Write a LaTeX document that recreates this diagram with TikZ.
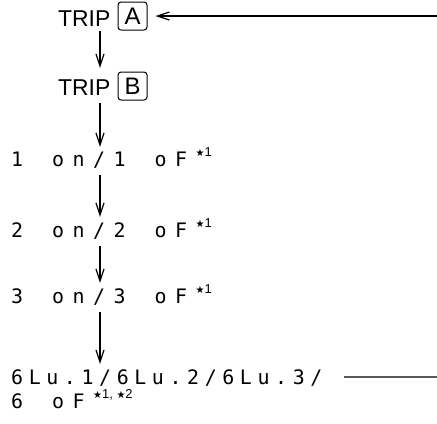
\documentclass[tikz,border=0pt]{standalone}
\usepackage{fontspec}
\setmainfont{Liberation Sans}
\newfontfamily\segfont{DejaVu Sans Mono}
\newfontfamily\starfont{DejaVu Sans}
\newfontfamily\supfont{Liberation Sans}
\usetikzlibrary{arrows.meta}
\newlength\sgw
\setlength\sgw{20.5bp}
\newcommand\sg[1]{\makebox[\sgw][l]{#1}}
\newcommand\sgsp{\hspace*{\sgw}}
\newcommand\starsym{{\starfont\fontsize{10}{10}\selectfont ★}}
\newcommand\supmark[1]{\raisebox{10bp}{\supfont\fontsize{13}{13}\selectfont #1}}
\begin{document}
\begin{tikzpicture}[x=1bp,y=-1bp,
  trip/.style={font=\fontsize{23}{23}\selectfont, inner sep=0, text height=17bp, text depth=0bp, anchor=base west},
  keybox/.style={draw, line width=1bp, rounded corners=3bp, minimum width=29bp, minimum height=28bp, inner sep=0, font=\fontsize{24}{24}\selectfont},
  segrow/.style={font=\segfont\fontsize{20}{20}\selectfont, inner sep=0, text height=14bp, text depth=0bp, anchor=base west,
    execute at begin node={\setlength\sgw{20.5bp}}},
  segrowtight/.style={segrow, execute at begin node={\setlength\sgw{17.6bp}}},
  arr/.style={line width=1.2bp, -{Straight Barb[length=12bp,width=8bp]}},
  flow/.style={arr, shorten <=9bp, shorten >=6bp},
  conn/.style={line width=1.2bp}]
\fill[white] (0,0) rectangle (437,423);
\useasboundingbox (0,0) rectangle (437,423);
\coordinate (ax) at (100,0);
\node[trip] (tripA) at (58,26) {TRIP};
\node[keybox] (keyA) at (132.5,16) {A};
\node[trip] (tripB) at (58,95) {TRIP};
\node[keybox] (keyB) at (132.5,86) {B};
\node[segrow] (r1) at (11,166) {\sg{1}\sgsp\sg{o}\sg{n}\sg{/}\sg{1}\sgsp\sg{o}\sg{F}\supmark{\starsym1}};
\node[segrow] (r2) at (11,237) {\sg{2}\sgsp\sg{o}\sg{n}\sg{/}\sg{2}\sgsp\sg{o}\sg{F}\supmark{\starsym1}};
\node[segrow] (r3) at (11,303) {\sg{3}\sgsp\sg{o}\sg{n}\sg{/}\sg{3}\sgsp\sg{o}\sg{F}\supmark{\starsym1}};
\node[segrowtight] (r4) at (11,384) {\sg{6}\sg{L}\sg{u}\sg{.}\sg{1}\sg{/}\sg{6}\sg{L}\sg{u}\sg{.}\sg{2}\sg{/}\sg{6}\sg{L}\sg{u}\sg{.}\sg{3}\sg{/}};
\node[segrow] (r5) at (11,408) {\sg{6}\sgsp\sg{o}\sg{F}\supmark{\starsym1, \starsym2}};
\coordinate (inA) at (437,16);
\coordinate (outR) at (437,377);
\draw[arr, shorten >=8bp] (inA) -- (keyA.east);
\draw[arr, shorten <=5bp, shorten >=10bp] (tripA.south -| ax) -- (tripB.north -| ax);
\draw[arr, shorten <=8bp, shorten >=5bp] (tripB.south -| ax) -- (r1.north -| ax);
\draw[flow] (r1.south -| ax) -- (r2.north -| ax);
\draw[flow] (r2.south -| ax) -- (r3.north -| ax);
\draw[flow] (r3.south -| ax) -- (r4.north -| ax);
\draw[conn, shorten <=16bp] (r4.east) -- (outR);
\end{tikzpicture}
\end{document}
